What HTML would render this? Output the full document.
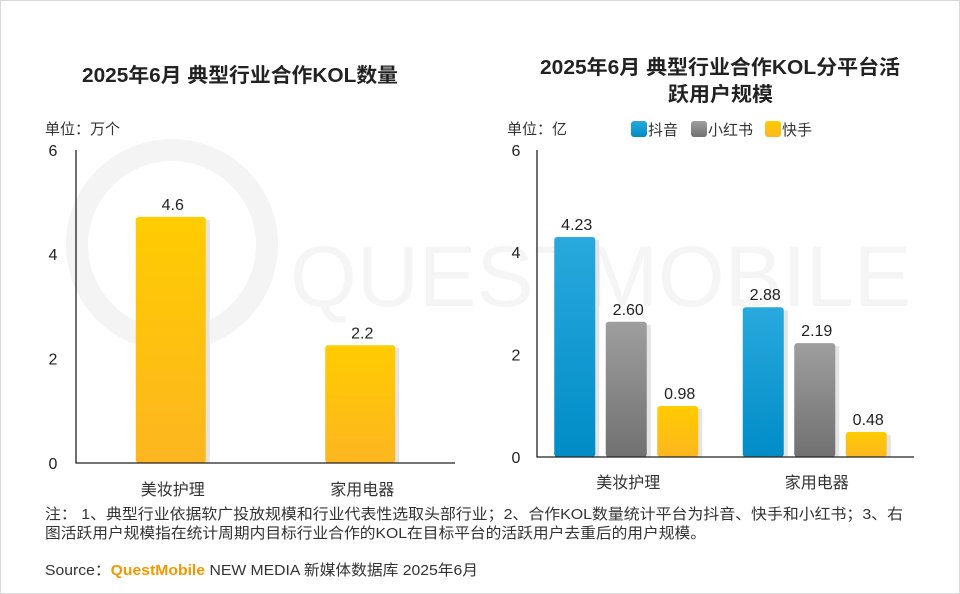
<!DOCTYPE html>
<html><head><meta charset="utf-8"><style>
html,body{margin:0;padding:0;background:#fff}
body{width:960px;height:594px;position:relative;overflow:hidden;font-family:"Liberation Sans","Noto Sans CJK SC",sans-serif}
.frame{position:absolute;left:0;top:0;width:958px;height:592px;border:1px solid #d9d9d9}
</style></head><body>
<div class="frame"></div>
<svg id="svg" width="960" height="594" style="position:absolute;left:0;top:0" font-family="Liberation Sans, Noto Sans CJK SC, sans-serif">
<defs>
<linearGradient id="gy" x1="0" y1="0" x2="0" y2="1"><stop offset="0" stop-color="#ffcc00"/><stop offset="1" stop-color="#fdb620"/></linearGradient>
<linearGradient id="gb" x1="0" y1="0" x2="0" y2="1"><stop offset="0" stop-color="#29a9dd"/><stop offset="1" stop-color="#008cc6"/></linearGradient>
<linearGradient id="gg" x1="0" y1="0" x2="0" y2="1"><stop offset="0" stop-color="#9e9e9e"/><stop offset="1" stop-color="#717171"/></linearGradient>
</defs>
<g fill="none" stroke="#f4f4f4" stroke-width="22">
<circle cx="172" cy="245" r="95"/>
</g>
<text x="290" y="306" font-size="86" fill="#f5f5f5">QUESTMOBILE</text>
<text x="82" y="82" font-size="20" font-weight="bold" fill="#222" textLength="316" lengthAdjust="spacingAndGlyphs">2025年6月 典型行业合作KOL数量</text>
<text x="540" y="74" font-size="20" font-weight="bold" fill="#222" textLength="360" lengthAdjust="spacingAndGlyphs">2025年6月 典型行业合作KOL分平台活</text>
<text x="668" y="101" font-size="20" font-weight="bold" fill="#222" textLength="105" lengthAdjust="spacingAndGlyphs">跃用户规模</text>
<text x="45" y="134" font-size="15" fill="#333">单位：万个</text>
<text x="507" y="134" font-size="15" fill="#333">单位：亿</text>
<g id="left"></g><g id="right"></g><g id="legend"></g>
<text x="45" y="519" font-size="15" fill="#333" textLength="858" lengthAdjust="spacingAndGlyphs">注： 1、典型行业依据软广投放规模和行业代表性选取头部行业；2、合作KOL数量统计平台为抖音、快手和小红书；3、右</text>
<text x="45" y="538" font-size="15" fill="#333" textLength="661" lengthAdjust="spacingAndGlyphs">图活跃用户规模指在统计周期内目标行业合作的KOL在目标平台的活跃用户去重后的用户规模。</text>
<text x="45" y="575" font-size="15" fill="#333" textLength="433" lengthAdjust="spacingAndGlyphs">Source：<tspan fill="#f39800" font-weight="bold">QuestMobile</tspan> NEW MEDIA 新媒体数据库 2025年6月</text>
</svg>
<script>
const leftCategories=["美妆护理","家用电器"];
const leftValues=[4.6,2.2];
const leftTicks=[0,2,4,6];
const rightCategories=["美妆护理","家用电器"];
const seriesNames=["抖音","小红书","快手"];
const douyinValues=[4.23,2.88];
const xhsValues=[2.60,2.19];
const kuaishouValues=[0.98,0.48];
const rightTicks=[0,2,4,6];

const NS="http://www.w3.org/2000/svg";
function mk(parent,tag,attrs,text){const e=document.createElementNS(NS,tag);for(const k in attrs)e.setAttribute(k,attrs[k]);if(text!==undefined)e.textContent=text;parent.appendChild(e);return e;}

// left chart
const L=document.getElementById('left');
const ly=v=>463-v*53.5;
const lty=v=>463-v*52.2;
const lx0=76,lx1=455,lgw=(lx1-lx0)/leftCategories.length;
leftTicks.forEach(t=>{const e=mk(L,'text',{x:53,y:lty(t)+6,'font-size':16,fill:'#222','text-anchor':'middle'},t);

});
leftCategories.forEach((c,i)=>{
 const cx=lx0+lgw*(i+0.5),w=70,v=leftValues[i];
 const sh=mk(L,'rect',{x:cx-w/2+4,y:ly(v)+3,width:w,height:463-ly(v)-3,fill:'#e4e4e4'});
 
 
 const b=mk(L,'rect',{x:cx-w/2,y:ly(v),width:w,height:463-ly(v),rx:3,fill:'url(#gy)'});
 
 
 const t=mk(L,'text',{x:cx+2,y:ly(v)-7,'font-size':16,fill:'#222','text-anchor':'middle'},v);
 
 
 const cl=mk(L,'text',{x:cx+2,y:495,'font-size':16,fill:'#333','text-anchor':'middle'},c);
 
 
});
const la=mk(L,'path',{d:`M${lx0} 150V463H${lx1}`,stroke:'#222','stroke-width':1.3,fill:'none'});



// right chart
const R=document.getElementById('right');
const ry=v=>457-v*52;
const rty=v=>457-v*51.2;
const rx0=537,rx1=914,rgw=(rx1-rx0)/rightCategories.length;
const series=[douyinValues,xhsValues,kuaishouValues];
const fills=['url(#gb)','url(#gg)','url(#gy)'];
rightTicks.forEach(t=>{const e=mk(R,'text',{x:516,y:rty(t)+6,'font-size':16,fill:'#222','text-anchor':'middle'},t);

});
rightCategories.forEach((c,i)=>{
 const gc=rx0+rgw*(i+0.5)-5;
 series.forEach((s,j)=>{
  const v=s[i],w=41,cx=gc+(j-1)*51.5;
  const sh=mk(R,'rect',{x:cx-w/2+4,y:ry(v)+3,width:w,height:457-ry(v)-3,fill:'#e4e4e4'});
  
  
  const b=mk(R,'rect',{x:cx-w/2,y:ry(v),width:w,height:457-ry(v),rx:3,fill:fills[j]});
  
  
  const t=mk(R,'text',{x:cx+2,y:ry(v)-7,'font-size':16,fill:'#222','text-anchor':'middle'},v.toFixed(2));
  
  
 });
 const cl=mk(R,'text',{x:gc+2,y:488,'font-size':16,fill:'#333','text-anchor':'middle'},c);
 
 
});
const ra=mk(R,'path',{d:`M${rx0} 150V457H${rx1}`,stroke:'#222','stroke-width':1.3,fill:'none'});



// legend
const G=document.getElementById('legend');
const lxs=[631,691,765];
seriesNames.forEach((n,j)=>{
 const r=mk(G,'rect',{x:lxs[j],y:121,width:16,height:16,rx:3,fill:fills[j]});
 
 
 const t=mk(G,'text',{x:lxs[j]+17,y:135,'font-size':15,fill:'#333'},n);
 
 
});
</script>
</body></html>
